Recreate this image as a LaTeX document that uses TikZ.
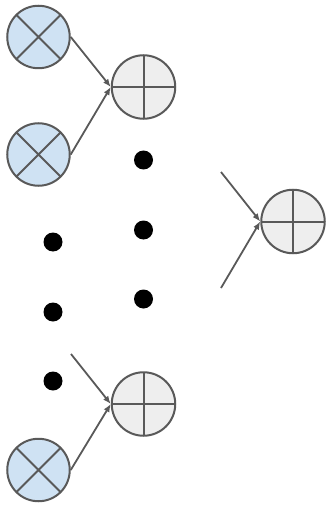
\documentclass[tikz,border=0pt]{standalone}
\usetikzlibrary{arrows.meta}
\definecolor{edge}{HTML}{595959}
\definecolor{mullite}{HTML}{CFE2F3}
\definecolor{sumlite}{HTML}{EEEEEE}

\begin{document}
\begin{tikzpicture}[x=1pt,y=-1pt,>={Latex[length=8pt,width=6.5pt]},
    mul/.style={circle,draw=edge,fill=mullite,line width=2pt,minimum size=62.5pt,inner sep=0pt,
      path picture={\draw[edge,line width=2pt] (path picture bounding box.north west) -- (path picture bounding box.south east) (path picture bounding box.north east) -- (path picture bounding box.south west);}},
    add/.style={circle,draw=edge,fill=sumlite,line width=2pt,minimum size=63.5pt,inner sep=0pt,
      path picture={\draw[edge,line width=2pt] (path picture bounding box.north) -- (path picture bounding box.south) (path picture bounding box.west) -- (path picture bounding box.east);}},
    dot/.style={circle,fill=black,minimum size=19pt,inner sep=0pt},
    flow/.style={->,draw=edge,line width=1.8pt}]
  \useasboundingbox (0,0) rectangle (326,505);
  \node[mul] (m1) at (38.5,37) {};
  \node[mul] (m2) at (38.5,154.5) {};
  \node[mul] (m3) at (38.5,470) {};
  \node[add] (s1) at (143.5,87) {};
  \node[add] (s2) at (143.5,404) {};
  \node[add] (s3) at (293,221.5) {};
  \node[dot] (d1) at (143.5,160) {};
  \node[dot] (d2) at (143.5,230) {};
  \node[dot] (d3) at (143.5,299) {};
  \node[dot] (d4) at (53,242) {};
  \node[dot] (d5) at (53,312) {};
  \node[dot] (d6) at (53,381) {};
  \coordinate (f1) at (221,172);
  \coordinate (f2) at (221,288);
  \coordinate (f3) at (71,354);
  \foreach \u/\v in {m1/s1,m2/s1,m3/s2}{\draw[flow] (\u.east) -- (\v.west);}
  \foreach \u/\v in {f3/s2,f1/s3,f2/s3}{\draw[flow] (\u) -- (\v.west);}
\end{tikzpicture}
\end{document}
